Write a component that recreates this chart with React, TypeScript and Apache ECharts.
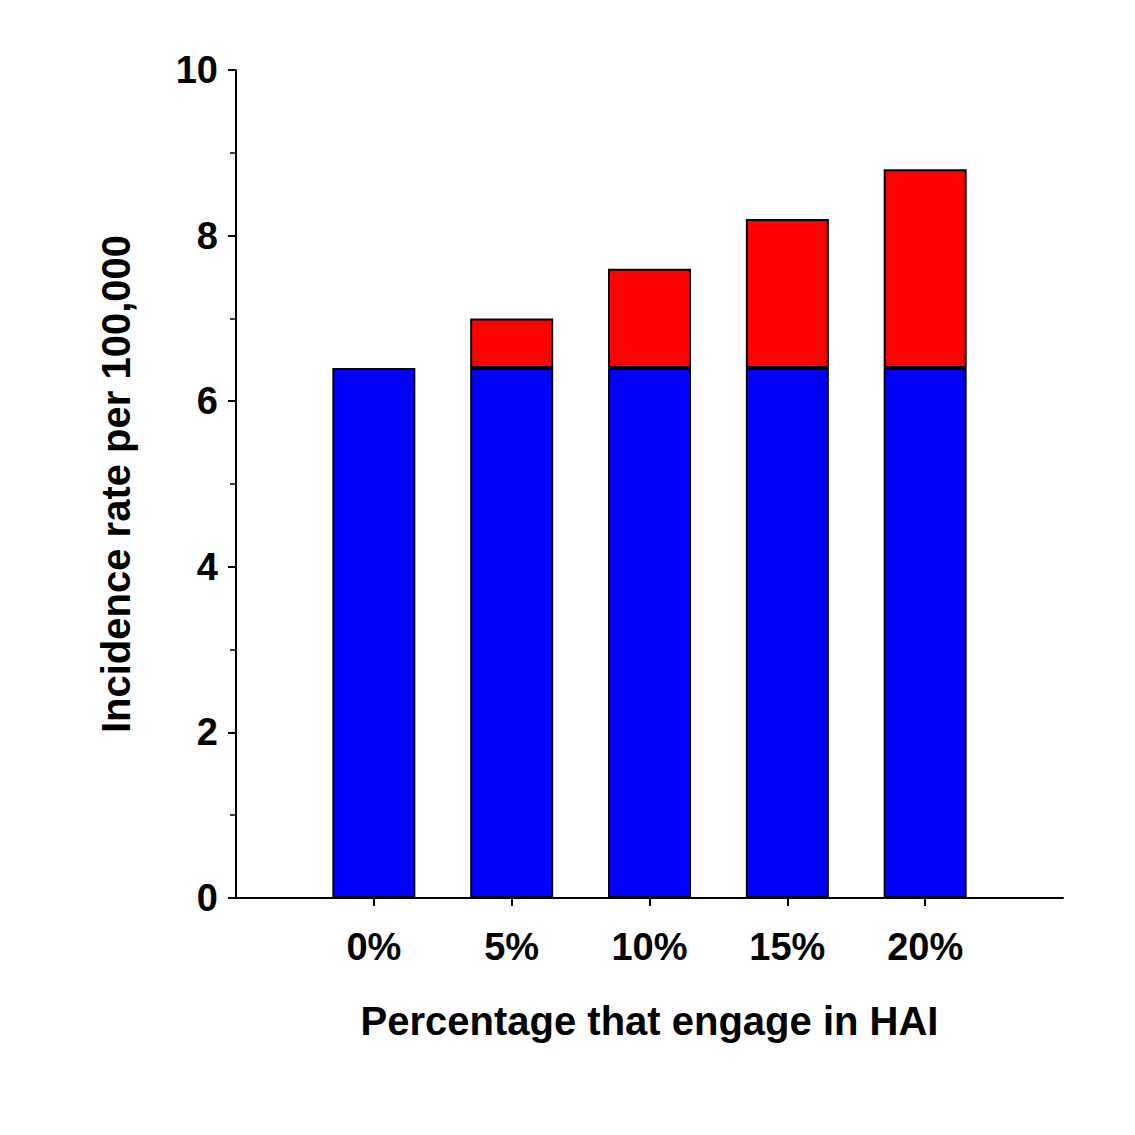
import React, { useEffect, useRef } from "react";
import * as echarts from "echarts";

const categories = ["", "0%", "5%", "10%", "15%", "20%", ""];
const baseValues = [null, 6.4, 6.4, 6.4, 6.4, 6.4, null];
const extraValues = [null, 0, 0.6, 1.2, 1.8, 2.4, null];

export default function App() {
  const ref = useRef<HTMLDivElement>(null);
  useEffect(() => {
    const chart = echarts.init(ref.current!, null, { renderer: "svg" });
    const font = "'Liberation Sans', Arial, sans-serif";
    chart.setOption({
      animation: false,
      backgroundColor: "#fff",
      grid: { left: 236, top: 70, width: 827, height: 828 },
      xAxis: {
        type: "category",
        data: categories,
        boundaryGap: false,
        axisLine: { lineStyle: { color: "#000", width: 2 } },
        axisTick: { length: 8, lineStyle: { color: "#000", width: 2 }, interval: (i: number) => i > 0 && i < 6 },
        axisLabel: { color: "#000", fontFamily: font, fontWeight: "bold", fontSize: 38, margin: 30, interval: 0 },
        name: "Percentage that engage in HAI",
        nameLocation: "middle",
        nameGap: 103,
        nameTextStyle: { color: "#000", fontFamily: font, fontWeight: "bold", fontSize: 40 },
        splitLine: { show: false },
      },
      yAxis: {
        type: "value",
        min: 0,
        max: 10,
        interval: 2,
        axisLine: { show: true, lineStyle: { color: "#000", width: 2 } },
        axisTick: { show: true, length: 8, lineStyle: { color: "#000", width: 2 } },
        minorTick: { show: true, splitNumber: 2, length: 6, lineStyle: { color: "#000", width: 1.5 } },
        axisLabel: { color: "#000", fontFamily: font, fontWeight: "bold", fontSize: 38, margin: 18 },
        splitLine: { show: false },
        name: "Incidence rate per 100,000",
        nameLocation: "middle",
        nameGap: 100,
        nameTextStyle: { color: "#000", fontFamily: font, fontWeight: "bold", fontSize: 40 },
      },
      series: [
        {
          type: "bar",
          stack: "a",
          data: baseValues,
          barWidth: 83,
          itemStyle: { color: "#0000ff", borderColor: "#000", borderWidth: 2 },
        },
        {
          type: "bar",
          stack: "a",
          data: extraValues.map((v) => (v === 0 ? null : v)),
          barWidth: 83,
          itemStyle: { color: "#ff0000", borderColor: "#000", borderWidth: 2 },
        },
      ],
    });
    return () => chart.dispose();
  }, []);
  return <div ref={ref} style={{ position: "fixed", left: 0, top: 0, width: 1135, height: 1135 }} />;
}
